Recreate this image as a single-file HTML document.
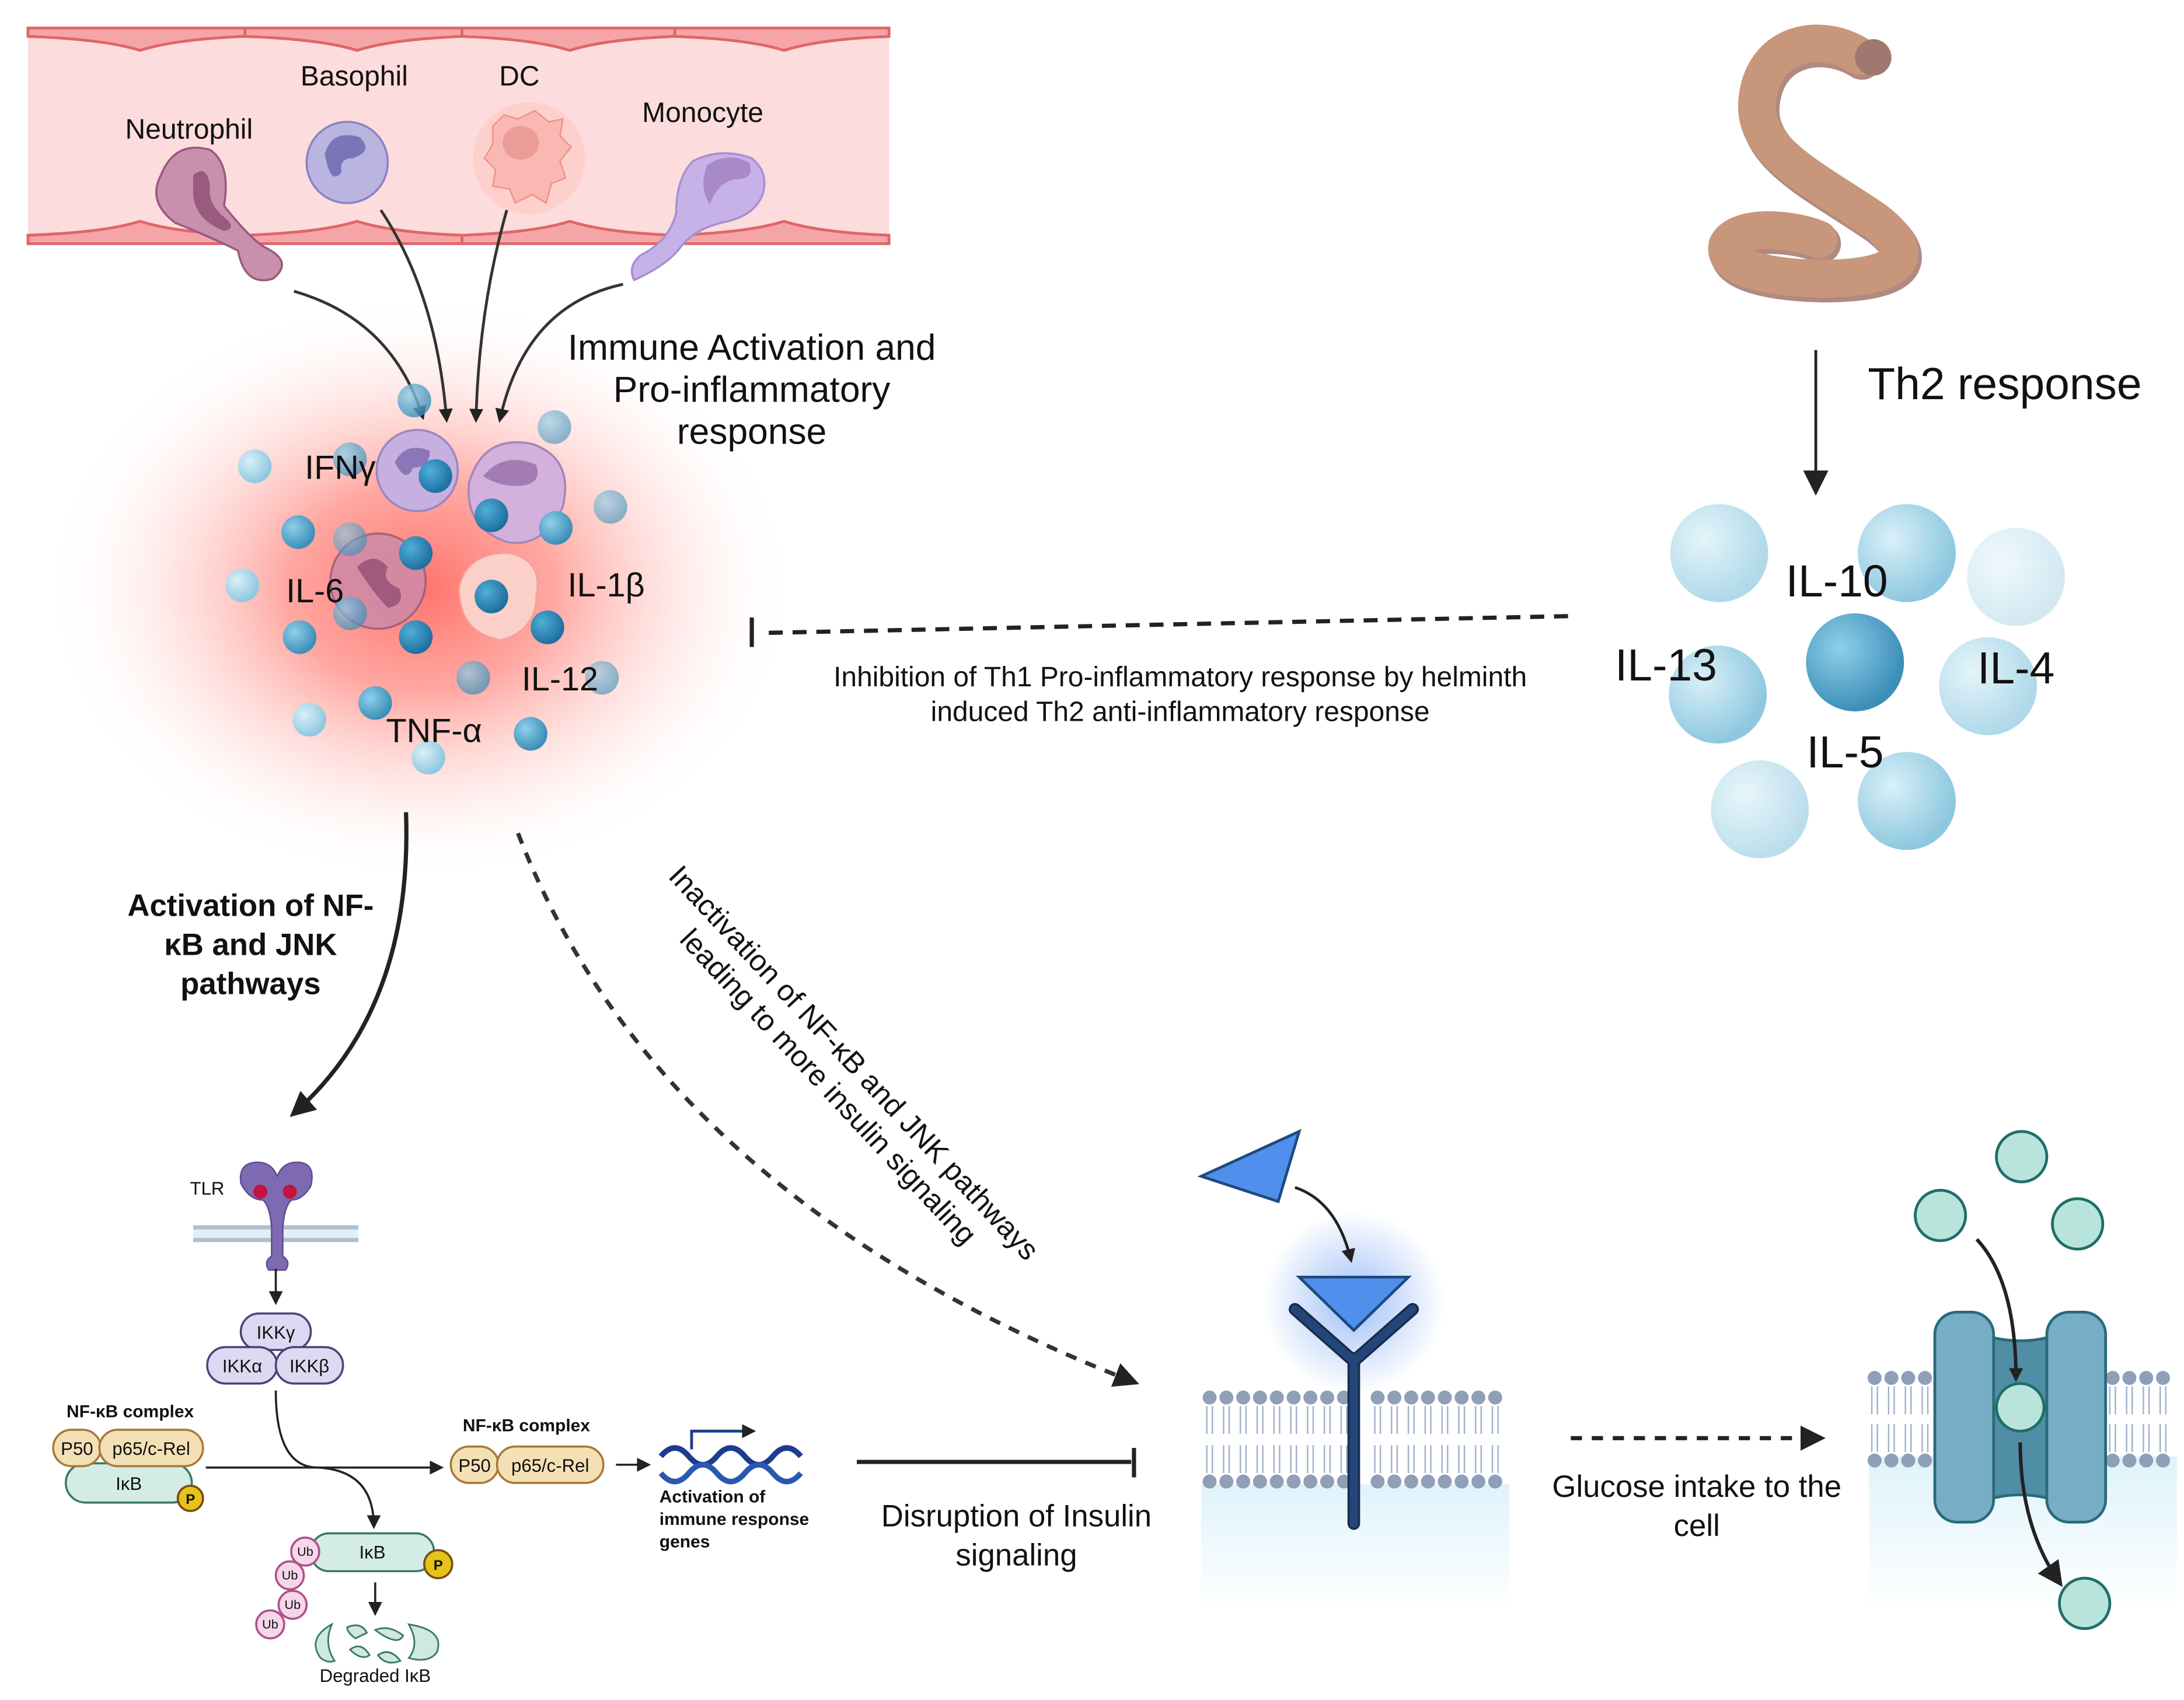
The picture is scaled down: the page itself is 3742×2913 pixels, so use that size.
<!DOCTYPE html>
<html><head><meta charset="utf-8"><style>
html,body{margin:0;padding:0;background:#fff;width:3742px;height:2913px;overflow:hidden}
svg{display:block}
text{font-family:"Liberation Sans",sans-serif;fill:#111}
</style></head><body>
<svg width="3742" height="2913" viewBox="0 0 1560 1214" preserveAspectRatio="none" xmlns="http://www.w3.org/2000/svg">
<defs>
<radialGradient id="glow" cx="50%" cy="50%" r="50%">
<stop offset="0" stop-color="#ff6b63" stop-opacity="0.95"/>
<stop offset="0.35" stop-color="#ff8a82" stop-opacity="0.75"/>
<stop offset="0.7" stop-color="#ffd0cc" stop-opacity="0.4"/>
<stop offset="1" stop-color="#fff" stop-opacity="0"/>
</radialGradient>
<radialGradient id="bl" cx="35%" cy="35%" r="65%"><stop offset="0" stop-color="#8fd0ea"/><stop offset="1" stop-color="#3d8fb8"/></radialGradient>
<radialGradient id="blL" cx="35%" cy="35%" r="65%"><stop offset="0" stop-color="#d9f0f8"/><stop offset="1" stop-color="#8ec8e0"/></radialGradient>
<radialGradient id="blD" cx="35%" cy="35%" r="65%"><stop offset="0" stop-color="#4fb0d8"/><stop offset="1" stop-color="#1f6fa0"/></radialGradient>
<radialGradient id="bg" cx="50%" cy="50%" r="50%"><stop offset="0" stop-color="#3f7ff0" stop-opacity="0.5"/><stop offset="1" stop-color="#3f7ff0" stop-opacity="0"/></radialGradient>
<linearGradient id="fade" x1="0" y1="0" x2="0" y2="1"><stop offset="0" stop-color="#dff3fb"/><stop offset="1" stop-color="#fff"/></linearGradient>
<marker id="ah" markerWidth="10" markerHeight="10" refX="8" refY="5" orient="auto" markerUnits="userSpaceOnUse"><path d="M0,0 L10,5 L0,10 z" fill="#222"/></marker>
<marker id="ahb" markerWidth="18" markerHeight="18" refX="14" refY="9" orient="auto" markerUnits="userSpaceOnUse"><path d="M0,0 L18,9 L0,18 z" fill="#222"/></marker>
</defs>

<!-- blood vessel -->
<rect x="20" y="22" width="615" height="150" fill="#fcdcdc"/>
<path d="M20,22 H635 M20,170 H635" stroke="#e06666" stroke-width="5" fill="none"/>
<g fill="#f5a5a8" stroke="#e06666" stroke-width="2">
<path d="M20,20 h155 v6 q-50,2 -75,10 q-25,-8 -80,-10z"/><path d="M175,20 h155 v6 q-50,2 -75,10 q-25,-8 -80,-10z"/>
<path d="M330,20 h152 v6 q-50,2 -75,10 q-25,-8 -77,-10z"/><path d="M482,20 h153 v6 q-50,2 -75,10 q-25,-8 -78,-10z"/>
<path d="M20,174 h155 v-6 q-50,-2 -75,-10 q-25,8 -80,10z"/><path d="M175,174 h155 v-6 q-50,-2 -75,-10 q-25,8 -80,10z"/>
<path d="M330,174 h152 v-6 q-50,-2 -75,-10 q-25,8 -77,10z"/><path d="M482,174 h153 v-6 q-50,-2 -75,-10 q-25,8 -78,10z"/>
</g>
<text x="135" y="99" font-size="20" text-anchor="middle">Neutrophil</text>
<text x="253" y="61" font-size="20" text-anchor="middle">Basophil</text>
<text x="371" y="61" font-size="20" text-anchor="middle">DC</text>
<text x="502" y="87" font-size="20" text-anchor="middle">Monocyte</text>
<!-- neutrophil -->
<path d="M115,125 q10,-25 35,-18 q15,10 10,40 q20,25 30,30 q20,10 5,22 q-20,6 -25,-20 q-20,-10 -45,-20 q-20,-15 -10,-34z" fill="#c890ad" stroke="#9a5a7e" stroke-width="1.5"/>
<path d="M138,125 q10,-8 12,8 q-2,12 10,22 q10,8 0,10 q-20,-8 -22,-25z" fill="#9a5a7e"/>
<!-- basophil -->
<circle cx="248" cy="116" r="29" fill="#b9b4e0" stroke="#8a84c4" stroke-width="1.5"/>
<path d="M232,110 q5,-18 25,-12 q10,10 -5,15 q-10,0 -8,10 q-8,10 -12,-13z" fill="#7b75b8"/>
<!-- DC -->
<circle cx="378" cy="113" r="40" fill="#ffc8c0" opacity="0.6"/>
<path d="M352,90 l8,-8 l10,3 l12,-6 l10,8 l10,-2 l-2,12 l8,8 l-8,10 l4,12 l-10,4 l-4,14 l-10,-6 l-12,6 l-4,-10 l-12,-2 l2,-12 l-8,-8 l6,-10z" fill="#f9b9b2" stroke="#ef8f88" stroke-width="1"/>
<ellipse cx="372" cy="102" rx="13" ry="12" fill="#eb9c98"/>
<!-- monocyte -->
<path d="M495,115 q20,-10 42,-2 q12,10 8,25 q-5,15 -25,20 q-25,5 -35,20 q-10,12 -32,22 q-5,-10 5,-18 q20,-10 25,-30 q0,-25 12,-37z" fill="#c7b2e8" stroke="#a88fd4" stroke-width="1.5"/>
<path d="M505,118 q15,-10 30,-2 q5,12 -10,12 q-12,2 -18,18 q-8,-12 -2,-28z" fill="#a88ac8"/>

<!-- glow -->
<ellipse cx="300" cy="420" rx="270" ry="210" fill="url(#glow)"/>
<g stroke="#333" stroke-width="2" fill="none" marker-end="url(#ah)">
<path d="M210,208 q70,20 92,90"/>
<path d="M272,150 q40,60 47,150"/>
<path d="M362,150 q-20,70 -22,150"/>
<path d="M445,203 q-70,15 -88,97"/>
</g>
<text font-size="26" text-anchor="middle"><tspan x="537" y="257">Immune Activation and</tspan><tspan x="537" y="287">Pro-inflammatory</tspan><tspan x="537" y="317">response</tspan></text>

<circle cx="298" cy="336" r="29" fill="#c6b0e0" stroke="#9a86c4" stroke-width="1.5"/>
<path d="M282,330 q8,-15 25,-8 q0,12 -12,12 q-5,12 -13,-4z" fill="#8b76b8"/>
<path d="M335,345 q10,-35 45,-28 q30,10 22,45 q-15,30 -40,25 q-30,-10 -27,-42z" fill="#d3b1dc" stroke="#a685bd" stroke-width="1.5"/>
<path d="M345,340 q15,-18 38,-8 q5,15 -15,15 q-12,0 -23,-7z" fill="#a47cb4"/>
<circle cx="270" cy="415" r="34" fill="#d08aa6" stroke="#9d5e7e" stroke-width="1.5" opacity="0.9"/>
<path d="M255,405 q12,-12 22,0 q-5,10 8,15 q5,12 -8,14 q-10,-10 -22,-29z" fill="#a05a7e"/>
<path d="M328,420 q5,-25 35,-25 q25,5 20,30 q0,25 -25,32 q-30,-5 -30,-37z" fill="#fbd0c8" stroke="#f0a49a" stroke-width="1"/>
<g>
<circle cx="296" cy="286" r="12" fill="url(#bl)" opacity="0.8"/>
<circle cx="396" cy="305" r="12" fill="url(#bl)" opacity="0.6"/>
<circle cx="182" cy="333" r="12" fill="url(#blL)"/>
<circle cx="250" cy="328" r="12" fill="url(#bl)" opacity="0.7"/>
<circle cx="311" cy="340" r="12" fill="url(#blD)"/>
<circle cx="436" cy="362" r="12" fill="url(#bl)" opacity="0.6"/>
<circle cx="213" cy="380" r="12" fill="url(#bl)"/>
<circle cx="250" cy="385" r="12" fill="url(#bl)" opacity="0.6"/>
<circle cx="351" cy="368" r="12" fill="url(#blD)"/>
<circle cx="397" cy="377" r="12" fill="url(#bl)"/>
<circle cx="297" cy="395" r="12" fill="url(#blD)"/>
<circle cx="173" cy="418" r="12" fill="url(#blL)"/>
<circle cx="351" cy="426" r="12" fill="url(#blD)"/>
<circle cx="250" cy="438" r="12" fill="url(#bl)" opacity="0.7"/>
<circle cx="214" cy="455" r="12" fill="url(#bl)"/>
<circle cx="297" cy="455" r="12" fill="url(#blD)"/>
<circle cx="391" cy="448" r="12" fill="url(#blD)"/>
<circle cx="338" cy="484" r="12" fill="url(#bl)" opacity="0.7"/>
<circle cx="430" cy="484" r="12" fill="url(#bl)" opacity="0.6"/>
<circle cx="268" cy="502" r="12" fill="url(#bl)"/>
<circle cx="221" cy="514" r="12" fill="url(#blL)"/>
<circle cx="379" cy="524" r="12" fill="url(#bl)"/>
<circle cx="306" cy="541" r="12" fill="url(#blL)"/>
</g>
<text x="243" y="342" font-size="24" text-anchor="middle">IFNγ</text>
<text x="225" y="430" font-size="24" text-anchor="middle">IL-6</text>
<text x="433" y="426" font-size="24" text-anchor="middle">IL-1β</text>
<text x="400" y="493" font-size="24" text-anchor="middle">IL-12</text>
<text x="310" y="530" font-size="24" text-anchor="middle">TNF-α</text>

<!-- worm -->
<path d="M1328,40 C1300,22 1257,30 1255,75 C1254,110 1300,130 1340,158 C1372,183 1358,199 1300,199 C1258,198 1230,190 1234,175 C1242,160 1280,163 1299,171" stroke="#b08a80" stroke-width="28" fill="none" stroke-linecap="round" transform="translate(2,3)"/>
<path d="M1328,40 C1300,22 1257,30 1255,75 C1254,110 1300,130 1340,158 C1372,183 1358,199 1300,199 C1258,198 1230,190 1234,175 C1242,160 1280,163 1299,171" stroke="#c8967a" stroke-width="27" fill="none" stroke-linecap="round"/>
<circle cx="1338" cy="41" r="13" fill="#a07870"/>
<path d="M1297,250 V350" stroke="#222" stroke-width="2" marker-end="url(#ahb)"/>
<text x="1432" y="285" font-size="32" text-anchor="middle">Th2 response</text>
<g>
<circle cx="1228" cy="395" r="35" fill="url(#blL)" opacity="0.7"/>
<circle cx="1362" cy="395" r="35" fill="url(#blL)"/>
<circle cx="1440" cy="412" r="35" fill="url(#blL)" opacity="0.4"/>
<circle cx="1325" cy="473" r="35" fill="url(#bl)"/>
<circle cx="1227" cy="496" r="35" fill="url(#blL)"/>
<circle cx="1420" cy="490" r="35" fill="url(#blL)" opacity="0.7"/>
<circle cx="1257" cy="578" r="35" fill="url(#blL)" opacity="0.6"/>
<circle cx="1362" cy="572" r="35" fill="url(#blL)"/>
</g>
<text x="1312" y="426" font-size="32" text-anchor="middle">IL-10</text>
<text x="1190" y="486" font-size="32" text-anchor="middle">IL-13</text>
<text x="1440" y="488" font-size="32" text-anchor="middle">IL-4</text>
<text x="1318" y="548" font-size="32" text-anchor="middle">IL-5</text>
<path d="M1120,440 L545,452" stroke="#222" stroke-width="3" stroke-dasharray="10,7"/>
<path d="M537,441 V462" stroke="#222" stroke-width="3"/>
<text font-size="20" text-anchor="middle"><tspan x="843" y="490">Inhibition of Th1 Pro-inflammatory response by helminth</tspan><tspan x="843" y="515">induced Th2 anti-inflammatory response</tspan></text>

<path d="M290,580 q5,140 -80,215" stroke="#222" stroke-width="3" fill="none" marker-end="url(#ahb)"/>
<text font-size="22" font-weight="bold" text-anchor="middle"><tspan x="179" y="654">Activation of NF-</tspan><tspan x="179" y="682">κB and JNK</tspan><tspan x="179" y="710">pathways</tspan></text>
<path d="M370,595 q100,260 440,392" stroke="#333" stroke-width="3" fill="none" stroke-dasharray="8,7" marker-end="url(#ahb)"/>
<text font-size="21" text-anchor="middle" transform="translate(596,772) rotate(47)"><tspan x="0" y="-12">Inactivation of NF-κB and JNK pathways</tspan><tspan x="0" y="13">leading to more insulin signaling</tspan></text>

<!-- TLR -->
<rect x="138" y="875" width="118" height="12" fill="#e0f0fb"/>
<rect x="138" y="875" width="118" height="3" fill="#b0bfcc"/>
<rect x="138" y="884" width="118" height="3" fill="#b0bfcc"/>
<text x="148" y="853" font-size="13" text-anchor="middle">TLR</text>
<path d="M172,845 q-2,-15 12,-15 q10,0 14,10 q4,-10 14,-10 q14,0 10,17 q-6,10 -14,10 q-5,5 -6,20 v20 q6,4 2,10 h-12 q-4,-6 2,-10 v-20 q-1,-15 -6,-20 q-10,0 -16,-12z" fill="#7e6ab0" stroke="#5e4a92" stroke-width="1"/>
<circle cx="186" cy="851" r="5" fill="#c0143c"/><circle cx="207" cy="851" r="5" fill="#c0143c"/>
<path d="M197,906 V930" stroke="#222" stroke-width="1.5" marker-end="url(#ah)"/>
<g stroke="#4a4478" stroke-width="1.5" fill="#dcdaf2">
<rect x="172" y="938" width="50" height="26" rx="13"/>
<rect x="148" y="962" width="50" height="26" rx="13"/>
<rect x="197" y="962" width="48" height="26" rx="13"/>
</g>
<text font-size="13" text-anchor="middle"><tspan x="197" y="956">IKKγ</tspan><tspan x="173" y="980">IKKα</tspan><tspan x="221" y="980">IKKβ</tspan></text>
<text x="93" y="1012" font-size="12.5" font-weight="bold" text-anchor="middle">NF-κB complex</text>
<rect x="47" y="1045" width="90" height="28" rx="14" fill="#d3ece6" stroke="#3a7a66" stroke-width="1.5"/>
<text x="92" y="1064" font-size="13" text-anchor="middle">IκB</text>
<rect x="38" y="1021" width="34" height="26" rx="13" fill="#f3e1b5" stroke="#a8793a" stroke-width="1.5"/>
<rect x="71" y="1021" width="74" height="26" rx="13" fill="#f3e1b5" stroke="#a8793a" stroke-width="1.5"/>
<text font-size="13" text-anchor="middle"><tspan x="55" y="1039">P50</tspan><tspan x="108" y="1039">p65/c-Rel</tspan></text>
<circle cx="136" cy="1070" r="9" fill="#e6c21a" stroke="#7a4a10" stroke-width="1.5"/><text x="136" y="1074" font-size="10" font-weight="bold" text-anchor="middle">P</text>
<path d="M147,1048 H315" stroke="#222" stroke-width="1.5" marker-end="url(#ah)"/>
<path d="M197,993 q0,55 30,55 q40,2 40,42" stroke="#222" stroke-width="1.5" fill="none" marker-end="url(#ah)"/>
<text x="376" y="1022" font-size="12.5" font-weight="bold" text-anchor="middle">NF-κB complex</text>
<rect x="322" y="1033" width="34" height="26" rx="13" fill="#f3e1b5" stroke="#a8793a" stroke-width="1.5"/>
<rect x="355" y="1033" width="76" height="26" rx="13" fill="#f3e1b5" stroke="#a8793a" stroke-width="1.5"/>
<text font-size="13" text-anchor="middle"><tspan x="339" y="1051">P50</tspan><tspan x="393" y="1051">p65/c-Rel</tspan></text>
<path d="M440,1046 H463" stroke="#222" stroke-width="1.5" marker-end="url(#ah)"/>
<g stroke="#1c3c8c" stroke-width="4" fill="none">
<path d="M472,1040 q10,-12 20,0 t20,0 t20,0 t20,0 t20,0"/>
<path d="M472,1052 q10,12 20,0 t20,0 t20,0 t20,0 t20,0" stroke="#2a58b0"/>
</g>
<path d="M494,1035 V1022 H538" stroke="#1c3c8c" stroke-width="2" fill="none" marker-end="url(#ah)"/>
<text font-size="12.5" font-weight="bold"><tspan x="471" y="1073">Activation of</tspan><tspan x="471" y="1089">immune response</tspan><tspan x="471" y="1105">genes</tspan></text>
<rect x="222" y="1095" width="88" height="27" rx="13" fill="#d3ece6" stroke="#3a7a66" stroke-width="1.5"/>
<text x="266" y="1113" font-size="13" text-anchor="middle">IκB</text>
<circle cx="313" cy="1117" r="10" fill="#e6c21a" stroke="#7a4a10" stroke-width="1.5"/><text x="313" y="1121" font-size="10" font-weight="bold" text-anchor="middle">P</text>
<g fill="#f5d6ea" stroke="#b0508a" stroke-width="1.5">
<circle cx="218" cy="1108" r="10"/><circle cx="207" cy="1125" r="10"/><circle cx="209" cy="1146" r="10"/><circle cx="193" cy="1160" r="10"/>
</g>
<text font-size="9" text-anchor="middle"><tspan x="218" y="1111">Ub</tspan><tspan x="207" y="1128">Ub</tspan><tspan x="209" y="1149">Ub</tspan><tspan x="193" y="1163">Ub</tspan></text>
<path d="M268,1130 V1152" stroke="#222" stroke-width="1.5" marker-end="url(#ah)"/>
<g fill="#cfe8e2" stroke="#3a7a66" stroke-width="1.2">
<path d="M237,1160 q-18,10 -8,24 q5,4 10,2 q-8,-12 -2,-26z"/>
<path d="M248,1162 q10,-4 14,4 l-8,4 q-6,-4 -6,-8z"/>
<path d="M250,1178 q8,-6 14,4 q-6,4 -14,-4z"/>
<path d="M268,1164 q10,-4 20,4 q-4,8 -20,-4z"/>
<path d="M270,1182 q8,-6 16,4 q-10,4 -16,-4z"/>
<path d="M292,1160 q26,4 20,20 q-6,8 -20,4 q8,-10 0,-24z"/>
</g>
<text x="268" y="1201" font-size="13" text-anchor="middle">Degraded IκB</text>

<path d="M612,1044 H808" stroke="#222" stroke-width="3"/>
<path d="M810,1034 V1055" stroke="#222" stroke-width="3"/>
<text font-size="22" text-anchor="middle"><tspan x="726" y="1090">Disruption of Insulin</tspan><tspan x="726" y="1118">signaling</tspan></text>

<rect x="858" y="1060" width="220" height="90" fill="url(#fade)"/>
<g fill="#8f9fb8">
<g id="hd">
<circle cx="864" cy="998" r="5"/><circle cx="876" cy="998" r="5"/><circle cx="888" cy="998" r="5"/><circle cx="900" cy="998" r="5"/><circle cx="912" cy="998" r="5"/><circle cx="924" cy="998" r="5"/><circle cx="936" cy="998" r="5"/><circle cx="948" cy="998" r="5"/><circle cx="960" cy="998" r="5"/>
<circle cx="984" cy="998" r="5"/><circle cx="996" cy="998" r="5"/><circle cx="1008" cy="998" r="5"/><circle cx="1020" cy="998" r="5"/><circle cx="1032" cy="998" r="5"/><circle cx="1044" cy="998" r="5"/><circle cx="1056" cy="998" r="5"/><circle cx="1068" cy="998" r="5"/>
</g>
<use href="#hd" y="60"/>
</g>
<g stroke="#9fb0cc" stroke-width="1" fill="none">
<path d="M862,1004 v20 M866,1004 v20 M874,1004 v20 M878,1004 v20 M886,1004 v20 M890,1004 v20 M898,1004 v20 M902,1004 v20 M910,1004 v20 M914,1004 v20 M922,1004 v20 M926,1004 v20 M934,1004 v20 M938,1004 v20 M946,1004 v20 M950,1004 v20 M958,1004 v20 M962,1004 v20 M982,1004 v20 M986,1004 v20 M994,1004 v20 M998,1004 v20 M1006,1004 v20 M1010,1004 v20 M1018,1004 v20 M1022,1004 v20 M1030,1004 v20 M1034,1004 v20 M1042,1004 v20 M1046,1004 v20 M1054,1004 v20 M1058,1004 v20 M1066,1004 v20 M1070,1004 v20"/>
<path d="M862,1032 v20 M866,1032 v20 M874,1032 v20 M878,1032 v20 M886,1032 v20 M890,1032 v20 M898,1032 v20 M902,1032 v20 M910,1032 v20 M914,1032 v20 M922,1032 v20 M926,1032 v20 M934,1032 v20 M938,1032 v20 M946,1032 v20 M950,1032 v20 M958,1032 v20 M962,1032 v20 M982,1032 v20 M986,1032 v20 M994,1032 v20 M998,1032 v20 M1006,1032 v20 M1010,1032 v20 M1018,1032 v20 M1022,1032 v20 M1030,1032 v20 M1034,1032 v20 M1042,1032 v20 M1046,1032 v20 M1054,1032 v20 M1058,1032 v20 M1066,1032 v20 M1070,1032 v20"/>
</g>
<circle cx="967" cy="930" r="65" fill="url(#bg)"/>
<path d="M967,1088 V970 M967,972 L925,935 M967,972 L1009,935" stroke="#1a2c4a" stroke-width="9" stroke-linecap="round" fill="none"/>
<path d="M967,1088 V970 M967,972 L925,935 M967,972 L1009,935" stroke="#22467a" stroke-width="6" stroke-linecap="round" fill="none"/>
<path d="M928,912 H1006 L967,950z" fill="#5090ec" stroke="#1e4a80" stroke-width="2"/>
<path d="M858,840 L928,808 L913,858z" fill="#5090ec" stroke="#1e4a80" stroke-width="2"/>
<path d="M925,848 q30,10 40,52" stroke="#222" stroke-width="2" fill="none" marker-end="url(#ah)"/>

<path d="M1122,1027 H1300" stroke="#222" stroke-width="3" stroke-dasharray="8,7" marker-end="url(#ahb)"/>
<text font-size="22" text-anchor="middle"><tspan x="1212" y="1069">Glucose intake to the</tspan><tspan x="1212" y="1097">cell</tspan></text>
<rect x="1335" y="1040" width="220" height="110" fill="url(#fade)"/>
<g fill="#8f9fb8">
<circle cx="1339" cy="984" r="5"/><circle cx="1351" cy="984" r="5"/><circle cx="1363" cy="984" r="5"/><circle cx="1375" cy="984" r="5"/>
<circle cx="1509" cy="984" r="5"/><circle cx="1521" cy="984" r="5"/><circle cx="1533" cy="984" r="5"/><circle cx="1545" cy="984" r="5"/>
<circle cx="1339" cy="1043" r="5"/><circle cx="1351" cy="1043" r="5"/><circle cx="1363" cy="1043" r="5"/><circle cx="1375" cy="1043" r="5"/>
<circle cx="1509" cy="1043" r="5"/><circle cx="1521" cy="1043" r="5"/><circle cx="1533" cy="1043" r="5"/><circle cx="1545" cy="1043" r="5"/>
</g>
<g stroke="#9fb0cc" stroke-width="1"><path d="M1337,990 v20 M1341,990 v20 M1349,990 v20 M1353,990 v20 M1361,990 v20 M1365,990 v20 M1373,990 v20 M1377,990 v20 M1507,990 v20 M1511,990 v20 M1519,990 v20 M1523,990 v20 M1531,990 v20 M1535,990 v20 M1543,990 v20 M1547,990 v20 M1337,1017 v20 M1341,1017 v20 M1349,1017 v20 M1353,1017 v20 M1361,1017 v20 M1365,1017 v20 M1373,1017 v20 M1377,1017 v20 M1507,1017 v20 M1511,1017 v20 M1519,1017 v20 M1523,1017 v20 M1531,1017 v20 M1535,1017 v20 M1543,1017 v20 M1547,1017 v20"/></g>
<path d="M1408,950 q35,15 70,0 v125 q-35,-15 -70,0z" fill="#508ea6" stroke="#2a6a7a" stroke-width="2"/>
<rect x="1382" y="937" width="42" height="150" rx="16" fill="#76aec6" stroke="#2a6a7a" stroke-width="2"/>
<rect x="1462" y="937" width="42" height="150" rx="16" fill="#76aec6" stroke="#2a6a7a" stroke-width="2"/>
<g fill="#b9e4dc" stroke="#1f6e6a" stroke-width="2">
<circle cx="1444" cy="826" r="18"/><circle cx="1386" cy="868" r="18"/><circle cx="1484" cy="874" r="18"/>
<circle cx="1443" cy="1005" r="17"/><circle cx="1489" cy="1145" r="18"/>
</g>
<path d="M1412,885 q28,30 28,100" stroke="#222" stroke-width="2.5" fill="none" marker-end="url(#ah)"/>
<path d="M1443,1030 q0,60 28,100" stroke="#222" stroke-width="2.5" fill="none" marker-end="url(#ahb)"/>
</svg>
</body></html>
